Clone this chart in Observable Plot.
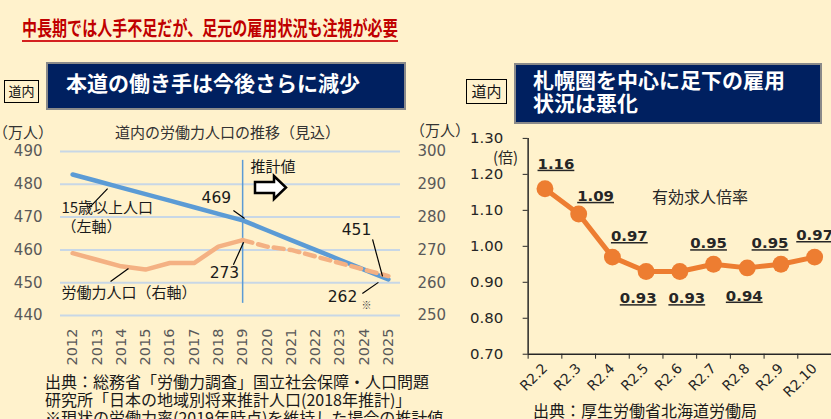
<!DOCTYPE html>
<html><head><meta charset="utf-8">
<script src="https://cdn.jsdelivr.net/npm/d3@7"></script>
<script src="https://cdn.jsdelivr.net/npm/@observablehq/plot@0.6"></script>
<style>
html,body{margin:0;padding:0;}
body{width:831px;height:419px;overflow:hidden;background:#fff2cc;position:relative;font-family:"Noto Sans CJK JP",sans-serif;}
.abs{position:absolute;white-space:nowrap;line-height:1;}
#title{left:22px;top:18px;font-size:20px;font-weight:bold;color:#c00000;transform:scaleX(0.752);transform-origin:left center;}
#titleLine{left:22px;top:40px;width:376px;height:2px;background:#d42020;}
.hdr{box-sizing:border-box;background:#002060;border:2px solid #8a8a8a;}
.hdrText{color:#fff;font-weight:bold;font-size:21px;}
.tag{box-sizing:border-box;border:1.5px solid #000;text-align:center;color:#111;}
.t15{font-size:15px;color:#333;}
.note{font-size:16px;color:#1a1a1a;}
</style></head><body>
<div id="title" class="abs">中長期では人手不足だが、足元の雇用状況も注視が必要</div>
<div id="titleLine" class="abs"></div>

<div class="abs tag" style="left:4px;top:80px;width:35px;height:23px;font-size:13px;line-height:20px;">道内</div>
<div class="abs hdr" style="left:46px;top:62px;width:360px;height:48px;"></div>
<div class="abs hdrText" style="left:66px;top:72px;">本道の働き手は今後さらに減少</div>

<div class="abs tag" style="left:466px;top:79px;width:41px;height:25px;font-size:15px;line-height:22px;">道内</div>
<div class="abs hdr" style="left:514px;top:63px;width:308px;height:61px;"></div>
<div class="abs hdrText" style="left:533px;top:69px;">札幌圏を中心に足下の雇用</div>
<div class="abs hdrText" style="left:533px;top:92px;">状況は悪化</div>

<div class="abs t15" style="left:115px;top:124px;">道内の労働力人口の推移（見込）</div>
<div class="abs t15" style="left:-7px;top:124px;">（万人）</div>
<div class="abs t15" style="left:410px;top:122px;">（万人）</div>

<div id="left" class="abs" style="left:0;top:110px;"></div>
<div id="right" class="abs" style="left:460px;top:120px;"></div>

<svg class="abs" style="left:252px;top:173px;" width="40" height="30">
  <polygon points="3,9 22,9 22,3 34,14.5 22,26 22,20 3,20" fill="#fff" stroke="#000" stroke-width="2.5" stroke-linejoin="miter"/>
</svg>

<div class="abs t15" style="left:493px;top:149px;color:#262626;">(倍)</div>
<div class="abs" style="left:652px;top:188px;font-size:16px;color:#262626;">有効求人倍率</div>

<div class="abs note" style="left:45px;top:373px;">出典：総務省「労働力調査」国立社会保障・人口問題</div>
<div class="abs note" style="left:45px;top:391px;">研究所「日本の地域別将来推計人口(2018年推計)」</div>
<div class="abs note" style="left:45px;top:409px;">※現状の労働力率(2019年時点)を維持した場合の推計値</div>
<div class="abs note" style="left:533px;top:402px;">出典：厚生労働省北海道労働局</div>

<script>
// ---- data: left chart (道内の労働力人口の推移) ----
const years = [2012,2013,2014,2015,2016,2017,2018,2019,2020,2021,2022,2023,2024,2025];
const pop15 = [483,481,479,477,475,473,471,469,466,463,460,457,454,451]; // 15歳以上人口 (左軸, 万人)
const laborYears = [2012,2013,2014,2015,2016,2017,2018,2019];
const laborActual = [269,267,265,264,266,266,271,273]; // 労働力人口 (右軸, 万人)
const forecastYears = [2019,2020,2021,2022,2023,2024,2025];
const laborForecast = [273,271,270,268,266,264,262]; // 推計値
const leftTicks = [440,450,460,470,480,490];
const rightTicks = [250,260,270,280,290,300];
const forecastStart = 2019;

// ---- data: right chart (有効求人倍率) ----
const months = ["R2.2","R2.3","R2.4","R2.5","R2.6","R2.7","R2.8","R2.9","R2.10"];
const ratio = [1.16,1.09,0.97,0.93,0.93,0.95,0.94,0.95,0.97];
const ratioTicks = [0.70,0.80,0.90,1.00,1.10,1.20,1.30];

// ---- left chart ----
const shift = leftTicks[0] - rightTicks[0]; // right axis → left axis units
const NUM = "DejaVu Sans, Noto Sans CJK JP, sans-serif";
const JP = "Noto Sans CJK JP, sans-serif";
const ink = "#1a1a1a";

const leaders = [
  {x1:2012.65, y1:472.6, x2:2013.44, y2:478.7},
  {x1:2018.62, y1:472.0, x2:2019.08, y2:469.6},
  {x1:2018.62, y1:455.5, x2:2019.04, y2:462.3},
  {x1:2024.35, y1:463.2, x2:2024.76, y2:451.9},
  {x1:2023.93, y1:446.7, x2:2024.59, y2:450.1},
  {x1:2013.56, y1:450.4, x2:2014.30, y2:454.3}
];
const jpNotes = [
  {t:"15歳以上人口", x:2011.54, y:472.6},
  {t:"（左軸）", x:2011.54, y:466.8},
  {t:"労働力人口（右軸）", x:2011.54, y:446.7},
  {t:"推計値", x:2019.32, y:485.1}
];
const numNotes = [
  {t:String(pop15[years.indexOf(forecastStart)]), x:2017.92, y:475.7},
  {t:String(laborActual[laborActual.length-1]), x:2018.25, y:452.8},
  {t:String(pop15[pop15.length-1]), x:2023.69, y:466.2},
  {t:String(laborForecast[laborForecast.length-1]), x:2023.11, y:445.5}
];

const leftPlot = Plot.plot({
  width: 460, height: 270,
  marginTop: 41, marginBottom: 65, marginLeft: 60, marginRight: 60,
  style: {background:"transparent", fontFamily: NUM, fontSize:"15px", color:"#595959", overflow:"visible"},
  x: {type:"linear", domain:[years[0]-0.5, years[years.length-1]+0.5]},
  y: {domain:[leftTicks[0], leftTicks[leftTicks.length-1]]},
  marks: [
    Plot.gridY(leftTicks, {stroke:"#c8d7e6", strokeOpacity:1, strokeWidth:2}),
    Plot.axisY(leftTicks, {anchor:"left", tickSize:0, tickPadding:18, label:null}),
    Plot.axisY(leftTicks, {anchor:"right", tickSize:0, tickPadding:17, tickFormat: d => d - shift, label:null}),
    Plot.axisX(years, {tickSize:0, tickRotate:-90, tickPadding:13, tickFormat: d => String(d), label:null, fontSize:14.5}),
    Plot.ruleX([forecastStart], {y1:443.7, y2:487.3, stroke:"#5b9bd5", strokeWidth:1.5}),
    Plot.line(years, {x: years, y: pop15, stroke:"#5b9bd5", strokeWidth:4.5}),
    Plot.line(laborYears, {x: laborYears, y: laborActual.map(v => v + shift), stroke:"#f4b183", strokeWidth:4.5}),
    Plot.line(forecastYears, {x: forecastYears, y: laborForecast.map(v => v + shift), stroke:"#f4b183", strokeWidth:4.5, strokeDasharray:"10,6"}),
    Plot.link(leaders, {x1:"x1", y1:"y1", x2:"x2", y2:"y2", stroke:"#000", strokeWidth:1.2}),
    Plot.text(jpNotes, {x:"x", y:"y", text:"t", textAnchor:"start", fontFamily: JP, fontSize:15, fill: ink}),
    Plot.text(numNotes, {x:"x", y:"y", text:"t", textAnchor:"middle", fontFamily: NUM, fontSize:15.5, fill: ink}),
    Plot.text(["※"], {x:2024.1, y:443.0, text: d => d, fontFamily: JP, fontSize:10, fill:"#444"})
  ]
});
document.getElementById("left").appendChild(leftPlot);

// ---- right chart ----
const labelDx = [11, 17, 17, -8, 7, -5, -3, -11, 0];
const labelDy = [-25, -18, -21, 27, 27, -21, 28, -21, -22];
const idx = ratio.map((v, i) => i + 0.5);

const rightPlot = Plot.plot({
  width: 373, height: 290,
  marginTop: 18, marginBottom: 55, marginLeft: 68, marginRight: 0,
  style: {background:"transparent", fontFamily: NUM, fontSize:"15px", color:"#262626", overflow:"visible"},
  x: {type:"linear", domain:[0, months.length]},
  y: {domain:[ratioTicks[0], ratioTicks[ratioTicks.length-1]]},
  marks: [
    Plot.ruleX([0], {stroke:"#262626", strokeWidth:1.5}),
    Plot.ruleY([ratioTicks[0]], {stroke:"#262626", strokeWidth:1.5}),
    Plot.axisY(ratioTicks, {tickSize:5, tickPadding:20, tickFormat: d => d.toFixed(2), label:null}),
    Plot.axisX(d3.range(months.length + 1), {tickSize:5, tickFormat: () => "", label:null}),
    Plot.axisX(idx, {tickSize:0, tickRotate:-45, tickPadding:12, tickFormat: d => months[Math.floor(d)], label:null, fontSize:14}),
    Plot.line(ratio, {x: idx, y: ratio, stroke:"#ed7d31", strokeWidth:5}),
    Plot.dot(ratio, {x: idx, y: ratio, r:8.5, fill:"#ed7d31", stroke:"none"}),
    ...ratio.map((v, i) => Plot.text([v], {x: () => idx[i], y: d => d, text: d => d.toFixed(2), dx: labelDx[i], dy: labelDy[i], fontWeight:"bold", fontSize:15, fill:"#262626", className:"vlabel"}))
  ]
});
document.getElementById("right").appendChild(rightPlot);
d3.select(rightPlot).selectAll(".vlabel text").attr("text-decoration", "underline");
</script>
</body></html>
